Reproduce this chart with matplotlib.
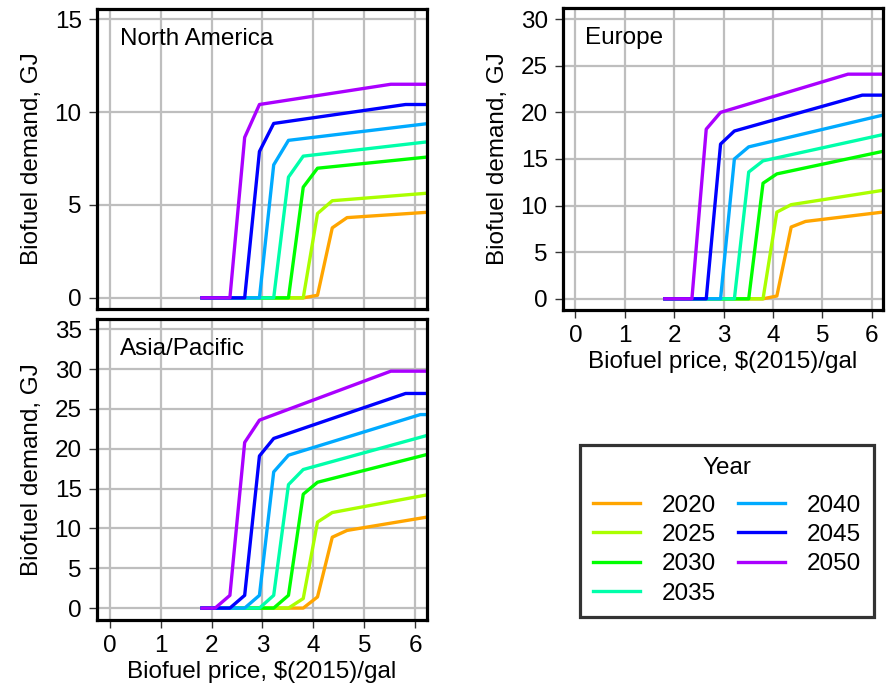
import matplotlib.pyplot as plt
from matplotlib.lines import Line2D

plt.rcParams['font.family'] = ['Liberation Sans', 'DejaVu Sans']

years = ['2020', '2025', '2030', '2035', '2040', '2045', '2050']
colors = ['#FFA500', '#AAFF00', '#00FF00', '#00FFAA', '#00AAFF', '#0000FF', '#AA00FF']

# vertices (price, demand)
na_price = [
    [1.78, 3.80, 4.08, 4.37, 4.66, 6.3],
    [1.78, 3.80, 4.08, 4.37, 6.3],
    [1.78, 3.51, 3.80, 4.08, 6.3],
    [1.78, 3.22, 3.51, 3.80, 6.3],
    [1.78, 2.94, 3.22, 3.51, 6.3],
    [1.78, 2.65, 2.94, 3.22, 5.81, 6.3],
    [1.78, 2.36, 2.65, 2.94, 5.52, 6.3],
]
na_demand = [
    [0, 0, 0.14, 3.77, 4.32, 4.62],
    [0, 0, 4.54, 5.23, 5.65],
    [0, 0, 5.96, 6.98, 7.6],
    [0, 0, 6.5, 7.63, 8.42],
    [0, 0, 7.16, 8.48, 9.4],
    [0, 0, 7.88, 9.39, 10.41, 10.41],
    [0, 0, 8.64, 10.41, 11.5, 11.5],
]

eu_price = na_price
eu_demand = [
    [0, 0, 0.3, 7.7, 8.3, 9.35],
    [0, 0, 9.3, 10.1, 11.7],
    [0, 0, 12.4, 13.4, 15.9],
    [0, 0, 13.6, 14.8, 17.7],
    [0, 0, 15.0, 16.3, 19.8],
    [0, 0, 16.6, 18.0, 21.85, 21.85],
    [0, 0, 18.2, 20.0, 24.1, 24.1],
]

ap_price = [
    [1.78, 3.80, 4.08, 4.37, 4.66, 6.3],
    [1.78, 3.51, 3.80, 4.08, 4.37, 6.3],
    [1.78, 3.22, 3.51, 3.80, 4.08, 6.3],
    [1.78, 2.94, 3.22, 3.51, 3.80, 6.3],
    [1.78, 2.65, 2.94, 3.22, 3.51, 6.10, 6.3],
    [1.78, 2.36, 2.65, 2.94, 3.22, 5.81, 6.3],
    [1.78, 2.07, 2.36, 2.65, 2.94, 5.52, 6.3],
]
ap_demand = [
    [0, 0, 1.4, 8.9, 9.75, 11.5],
    [0, 0, 1.2, 10.8, 12.0, 14.3],
    [0, 0, 1.6, 14.3, 15.8, 19.4],
    [0, 0, 1.6, 15.5, 17.4, 21.8],
    [0, 0, 1.6, 17.1, 19.2, 24.3, 24.3],
    [0, 0, 1.6, 19.1, 21.3, 26.95, 26.95],
    [0, 0, 1.6, 20.8, 23.6, 29.75, 29.75],
]

FS = 17.5

fig = plt.figure(figsize=(8.89, 6.89), dpi=100)

def panel(rect, prices, demands, title, yticks, ylim, xlab):
    ax = fig.add_axes(rect)
    for i in range(len(years)):
        ax.plot(prices[i], demands[i], color=colors[i], lw=2.4, solid_capstyle='butt', zorder=3)
    ax.set_xlim(-0.25, 6.23)
    ax.set_ylim(*ylim)
    ax.set_yticks(yticks)
    ax.set_xticks(range(7))
    ax.grid(True, color='#BEBEBE', lw=1.6, zorder=0)
    ax.set_axisbelow(True)
    for s in ax.spines.values():
        s.set_linewidth(2.3)
        s.set_zorder(5)
    ax.tick_params(axis='both', length=6, width=1, color='#333333', labelsize=FS, pad=5)
    ax.set_ylabel('Biofuel demand, GJ', fontsize=FS, labelpad=8)
    if xlab:
        ax.set_xlabel('Biofuel price, $(2015)/gal', fontsize=FS, labelpad=3)
    else:
        ax.tick_params(axis='x', length=0, labelbottom=False)
    ax.text(0.07, 0.937, title, transform=ax.transAxes, fontsize=FS, va='top', ha='left')
    return ax

panel([0.1091, 0.5515, 0.3712, 0.4354], na_price, na_demand, 'North America',
      [0, 5, 10, 15], (-0.6, 15.55), False)
panel([0.6333, 0.5501, 0.36, 0.4383], eu_price, eu_demand, 'Europe',
      [0, 5, 10, 15, 20, 25, 30], (-1.2, 31.2), True)
panel([0.1091, 0.1001, 0.3712, 0.4369], ap_price, ap_demand, 'Asia/Pacific',
      [0, 5, 10, 15, 20, 25, 30, 35], (-1.5, 36.3), True)

handles = [Line2D([], [], color=c, lw=2.4) for c in colors]
leg = fig.legend(handles, years, title='Year', ncol=2, loc='center',
                 bbox_to_anchor=(727 / 889, 1 - 531 / 689), fontsize=FS, title_fontsize=FS,
                 handlelength=1.95, handletextpad=0.9, columnspacing=0.9, labelspacing=0.3,
                 fancybox=False, borderpad=0.5, alignment='center')
leg._legend_box.sep = 11
leg.get_frame().set_edgecolor('black')
leg.get_frame().set_linewidth(2.3)

fig.savefig('out.png', dpi=100)
